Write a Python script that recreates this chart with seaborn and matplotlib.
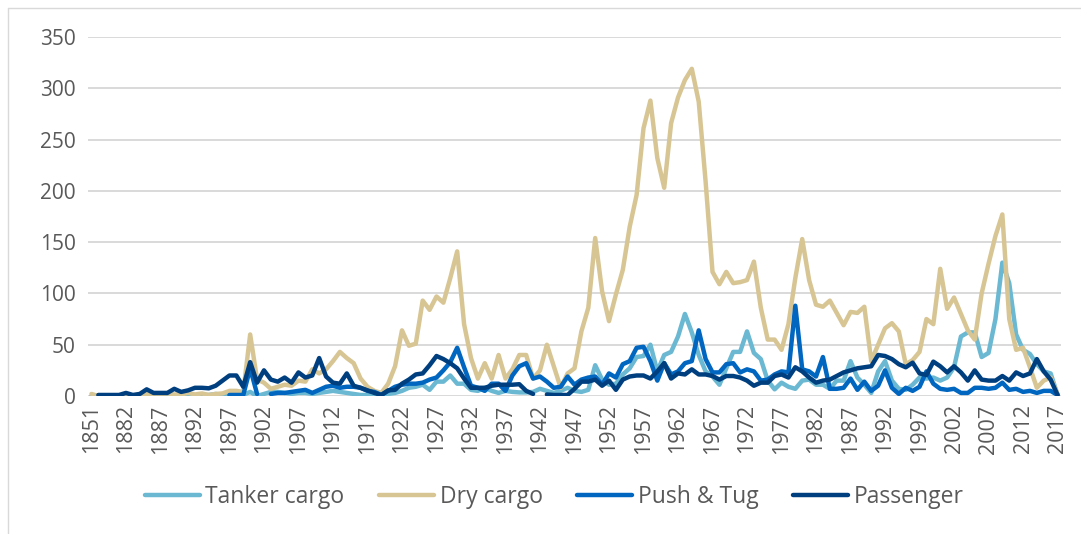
import numpy as np
import pandas as pd
import matplotlib
matplotlib.use("Agg")
import matplotlib.pyplot as plt
from matplotlib.lines import Line2D
import seaborn as sns

nan = np.nan

# ---- categories (x axis) ----
early_years = ["1851", "1863", "1872", "1876", "1879"]
years = early_years + [str(y) for y in range(1882, 2018)]

# ---- series values ----
tanker_cargo = [
    0, 0, 0, 0, 0, 0, 0, 0, 0, 0, 0, 1, 0, 0, 1, 0, 1, 1, 2, 1,
    1, 1.5, 1, 4, 0, 2, 4, 4, 3, 2, 3, 3, 2, 3, 4, 5, 4, 3, 2, 1,
    1, 0, 0, 2, 3, 5, 8, 9, 11, 6, 14, 14, 20, 12, 12, 6, 5, 8, 5, 3,
    5, 4, 3.5, 3.5, 4, 7, 5, 3, 5, 8, 5, 4, 6, 30, 16, 11, 12, 21, 27, 38,
    39, 50, 24, 40, 43, 58, 80, 62, 40, 24, 19, 11, 27, 43, 43, 63, 42, 36, 15, 6.5,
    13, 9, 7, 15, 16, 11, 11, 7, 15, 15, 34, 18, 11, 3, 24, 34, 15, 7, 6, 11,
    18, 17, 18, 15, 18, 28, 58, 62, 62, 38, 42, 75, 130, 110, 60, 45, 41, 31, 24, 22,
    1,
]

dry_cargo = [
    2, 0, 0, 0, 0, 1.5, 0, 1.5, 2, 0, 1.5, 2.5, 1.5, 1.5, 3, 1.5, 2.5, 1, 2, 2.5,
    5, 5, 4, 60, 16, 13, 7, 9, 11, 10, 15, 14, 26, 22, 26, 34, 43, 37, 32, 17,
    9, 5, 3, 12, 29, 64, 49, 51, 93, 84, 97, 91, 115, 141, 70, 37, 17, 32, 17, 40,
    17, 26, 40, 40, 17, 25, 50, 29, 8, 22, 27, 63, 86, 154, 102, 73, 99, 123, 165, 196,
    261, 288, 232, 203, 266, 291, 308, 319, 287, 209, 121, 109, 121, 110, 111, 113, 131, 86, 55, 55,
    45, 70, 115, 153, 113, 89, 87, 93, 81, 69, 82, 81, 87, 34, 50, 66, 71, 63, 31, 35,
    43, 75, 70, 124, 85, 96, 80, 64, 55, 100, 129, 156, 177, 75, 45, 47, 28, 8, 15, 18,
    2,
]

push_tug = [
    nan, nan, nan, nan, nan, nan, nan, nan, nan, nan, nan, nan, nan, nan, nan, nan, nan, nan, nan, nan,
    1, 1, 1, 27, 2, nan, 2, 3, 3, 4, 5, 6, 3, 6, 9, 10, 8, 9, 9, 8,
    5, 4, 1, 5, 9, 11, 12, 12, 13, 16, 18, 25, 33, 47, 28, 10, 8, 5, 12, 12,
    5, 20, 29, 32, 17, 19, 14, 8, 9, 19, 11, 16, 18, 19, 11, 22, 18, 31, 34, 47,
    48, 34, 15, 32, 21, 24, 32, 34, 64, 36, 23, 23, 31, 32, 23, 26, 24, 15, 16, 21,
    24, 23, 88, 26, 24, 19, 38, 7, 7, 8, 17, 6, 14, 5, 10, 25, 8, 2, 8, 5,
    9, 24, 12, 7, 6, 7, 3, 3, 8, 8, 7, 8, 13, 6, 7, 4, 5, 3, 5, 5,
    1,
]

passenger = [
    nan, 1, 1, 1, 1, 3, 1, 2, 6.5, 3, 3, 3, 7, 4, 5.5, 8, 8, 7.5, 10, 15,
    20, 20, 9, 33, 13, 25, 16, 14, 18, 13, 23, 18, 20, 37, 19, 13, 12, 22, 10, 8,
    5.5, 3, 1, 5.5, 6, 12, 16, 21, 22, 30, 39, 36, 32, 27, 17, 8, 8, 8, 10, 11,
    11, 11, 11.5, 5, 2, nan, 1.5, 1, 1, 1, 7, 14, 14, 16, 10, 15, 6, 16, 19, 20,
    20, 17, 24, 32, 17, 22, 21, 26, 21, 21, 19.5, 16, 19.5, 19.5, 18, 15, 10, 13, 13, 19.5,
    21, 18, 28, 24, 18, 13, 15, 16, 19.5, 23, 25, 27, 28, 29, 40, 39, 36, 31, 28, 32.5,
    22, 20.5, 33.5, 29, 23, 29, 23, 15, 25, 16, 15, 15, 19.5, 15, 23, 19.5, 22, 36, 24, 16,
    1,
]

series_names = ["Tanker cargo", "Dry cargo", "Push & Tug", "Passenger"]
series_values = [tanker_cargo, dry_cargo, push_tug, passenger]
colors = ["#6BB8D2", "#D8C594", "#0066C0", "#003F7F"]

# ---- long-form table, with segments split at gaps ----
rows = []
for name, vals in zip(series_names, series_values):
    seg = 0
    prev_nan = True
    for i, v in enumerate(vals):
        if v is None or (isinstance(v, float) and np.isnan(v)):
            if not prev_nan:
                seg += 1
            prev_nan = True
            continue
        prev_nan = False
        rows.append({"idx": i, "value": v, "series": name, "seg": f"{name}_{seg}"})
df = pd.DataFrame(rows)

sns.set_theme(style="white")
plt.rcParams["font.family"] = ["Open Sans", "DejaVu Sans"]

W, H = 1081, 534
fig = plt.figure(figsize=(W / 100, H / 100), dpi=100)
ax = fig.add_axes([88 / W, 1 - 396 / H, (1061 - 88) / W, (396 - 37) / H])

sns.lineplot(
    data=df, x="idx", y="value", hue="series", units="seg", estimator=None,
    hue_order=series_names, palette=colors, linewidth=3.2, ax=ax, legend=False,
    sort=True,
)
for ln in ax.lines:
    ln.set_solid_capstyle("round")
    ln.set_solid_joinstyle("round")

ax.set_ylim(0, 350)
ax.set_xlim(-0.5, len(years) - 0.5)
ax.set_yticks(np.arange(0, 351, 50))
ax.set_xticks(np.arange(0, len(years), 5))
ax.set_xticklabels(years[::5], rotation=90, va="top", ha="center")
ax.set_xlabel("")
ax.set_ylabel("")
ax.grid(axis="y", color="#D9D9D9", linewidth=1.4)
ax.grid(axis="x", visible=False)
ax.set_axisbelow(True)
for s in ax.spines.values():
    s.set_visible(False)
ax.tick_params(axis="both", length=0, colors="#595959")
ax.tick_params(axis="y", labelsize=15, pad=9)
ax.tick_params(axis="x", labelsize=15.5, pad=6)

handles = [Line2D([0], [0], color=c, linewidth=3.2, solid_capstyle="round") for c in colors]
fig.legend(
    handles, series_names, loc="center", bbox_to_anchor=(554 / W, 1 - 497 / H),
    ncol=4, frameon=False, fontsize=16.5, handlelength=2.4, handletextpad=0.25,
    columnspacing=1.5, labelcolor="#595959",
)

# outer chart frame
fig.add_artist(Line2D([8 / W, 8 / W], [0, 1 - 8 / H], color="#D9D9D9", linewidth=1.0))
fig.add_artist(Line2D([8 / W, 1], [1 - 8 / H, 1 - 8 / H], color="#D9D9D9", linewidth=1.0))

fig.savefig("out.png", dpi=100)
